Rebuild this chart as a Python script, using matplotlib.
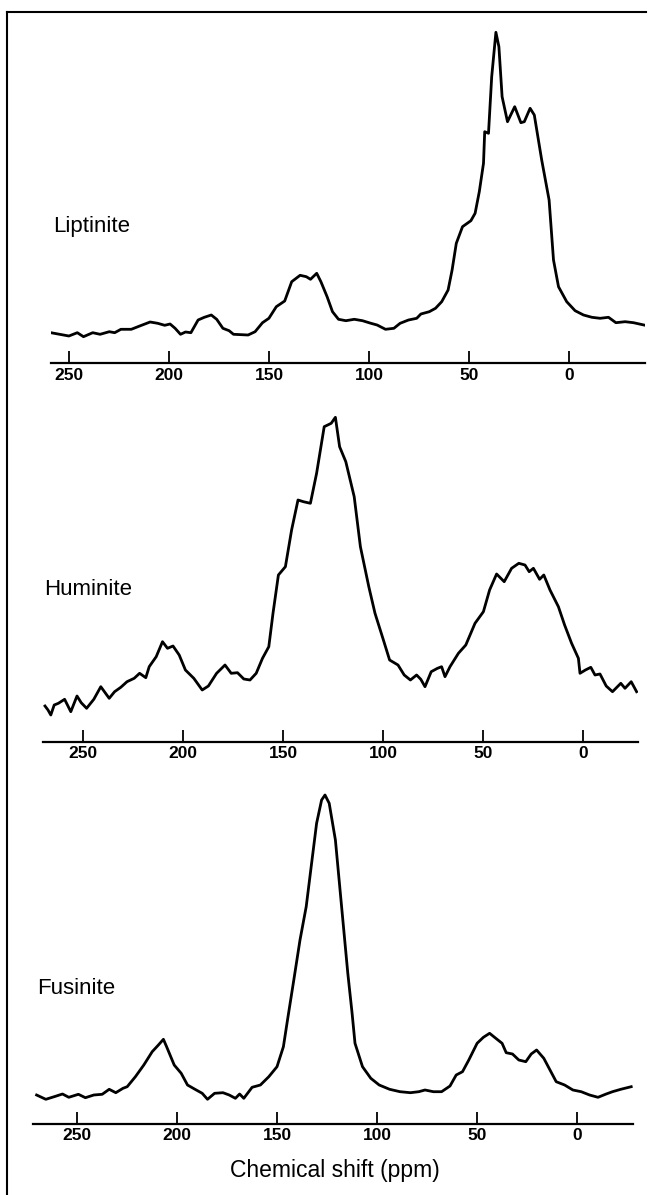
import numpy as np
import matplotlib.pyplot as plt
from matplotlib.lines import Line2D

# chemical shift (ppm) and intensity (arbitrary units)
lip_ppm = [259.1, 250.1, 245.9, 242.8, 238.2, 234.5, 229.9, 227.2, 224.1, 218.9,
           214.7, 209.5, 205.7, 202.2, 199.5, 197.0, 194.3, 191.8, 189.1, 185.5,
           182.4, 178.9, 176.2, 173.1, 170.0, 167.8, 160.5, 157.0, 153.3, 150.1,
           146.4, 142.2, 138.7, 134.5, 131.4, 129.3, 126.2, 124.1, 121.0, 118.3,
           115.3, 111.6, 107.4, 103.3, 99.1, 96.0, 91.8, 87.6, 84.5, 80.3,
           76.2, 74.1, 69.9, 66.8, 63.7, 60.5, 58.5, 56.4, 53.3, 49.1,
           47.0, 44.9, 42.8, 42.2, 40.3, 38.7, 36.6, 35.1, 33.5, 30.8,
           27.2, 24.1, 22.4, 19.5, 17.4, 13.7, 10.0, 7.8, 5.3, 1.2,
           -3.0, -7.2, -11.4, -15.5, -19.7, -23.4, -28.0, -32.2, -37.4]
lip_int = [30.3, 27.0, 30.3, 26.3, 30.3, 28.7, 31.3, 30.3, 33.7, 33.7,
           37.0, 41.0, 39.7, 37.7, 39.0, 34.7, 28.7, 31.0, 30.3, 43.0,
           45.7, 48.0, 43.7, 34.7, 32.3, 28.7, 28.0, 31.3, 40.3, 44.7,
           56.3, 62.0, 81.3, 87.7, 86.3, 83.7, 89.7, 81.3, 66.3, 51.3,
           43.7, 42.3, 43.7, 42.3, 39.7, 38.0, 33.7, 34.7, 39.7, 43.0,
           44.7, 49.0, 51.3, 54.7, 61.3, 73.0, 93.0, 119.7, 136.3, 142.3,
           149.7, 171.3, 199.7, 231.3, 229.7, 286.3, 330.7, 316.3, 266.3, 241.3,
           256.3, 240.3, 241.3, 254.7, 248.0, 203.0, 163.0, 103.0, 76.3, 61.3,
           52.3, 48.0, 45.7, 44.7, 45.7, 40.3, 41.3, 40.3, 38.0]

hum_ppm = [269.0, 267.5, 266.1, 264.4, 262.3, 259.2, 256.1, 253.0, 250.9, 248.2,
           244.6, 241.1, 236.9, 234.2, 231.1, 228.0, 224.4, 221.7, 218.6, 216.9,
           213.4, 210.25, 207.75, 205.0, 201.9, 198.8, 194.6, 190.4, 187.3, 183.2,
           179.0, 175.9, 172.75, 169.6, 166.5, 163.4, 160.25, 157.1, 155.0, 152.3,
           148.8, 145.7, 142.5, 139.8, 136.3, 133.2, 129.4, 125.9, 123.8, 121.7,
           118.6, 114.4, 111.3, 107.1, 104.0, 99.8, 96.7, 92.5, 89.4, 86.3,
           83.2, 81.1, 79.0, 75.9, 72.75, 70.7, 69.0, 66.5, 62.3, 58.6,
           54.0, 49.8, 46.7, 43.2, 39.4, 35.7, 32.1, 29.0, 26.9, 24.8,
           21.7, 19.6, 16.5, 12.3, 9.2, 5.7, 2.3, 1.5, -1.2, -3.9,
           -6.0, -8.5, -11.6, -14.75, -18.9, -21.0, -24.1, -26.8]
hum_int = [35.5, 31.5, 26.5, 36.5, 38.2, 42.2, 29.8, 45.5, 38.8, 33.2,
           42.2, 54.8, 43.2, 49.8, 54.2, 59.8, 63.2, 68.2, 63.8, 74.8,
           84.8, 99.8, 93.2, 95.5, 86.5, 71.5, 63.2, 51.5, 55.5, 68.2,
           76.5, 68.2, 68.8, 62.5, 61.5, 68.2, 83.2, 94.8, 128.2, 166.5,
           174.8, 211.5, 241.5, 239.8, 238.2, 268.2, 314.8, 318.2, 324.2, 294.8,
           279.8, 244.8, 194.8, 154.8, 128.2, 101.5, 81.5, 76.5, 66.5, 61.5,
           66.5, 62.2, 54.8, 69.8, 73.2, 74.8, 64.8, 74.8, 88.2, 96.5,
           118.2, 129.8, 151.5, 167.5, 159.8, 173.2, 178.2, 176.5, 169.8, 173.2,
           162.2, 166.5, 151.5, 134.8, 116.5, 98.2, 83.2, 68.2, 71.5, 74.2,
           66.5, 67.5, 55.5, 49.8, 58.2, 53.2, 59.8, 49.8]

fus_ppm = [270.2, 265.6, 261.4, 257.25, 254.1, 249.3, 245.8, 241.6, 237.4, 233.9,
           230.6, 227.0, 224.9, 220.8, 216.6, 212.4, 209.3, 206.8, 205.2, 201.4,
           197.9, 194.75, 191.0, 187.4, 184.75, 181.2, 177.0, 173.9, 170.8, 168.7,
           166.6, 162.45, 158.3, 154.1, 150.0, 146.8, 144.75, 141.6, 138.5, 135.4,
           132.7, 130.2, 127.7, 126.0, 123.9, 120.8, 117.7, 114.6, 112.45, 111.0,
           107.25, 103.1, 98.9, 93.7, 88.5, 83.3, 79.1, 76.0, 71.8, 67.7,
           63.5, 60.4, 57.25, 54.1, 49.95, 46.8, 43.7, 40.6, 37.45, 35.4,
           32.25, 29.1, 25.6, 22.9, 20.2, 16.6, 13.5, 10.4, 6.2, 2.05,
           -2.1, -6.3, -10.5, -14.6, -17.75, -21.9, -27.1]
fus_int = [28.5, 24.2, 26.8, 29.5, 26.2, 29.2, 25.8, 28.5, 29.2, 34.2,
           30.8, 35.2, 36.8, 46.8, 58.5, 71.8, 78.5, 84.2, 76.8, 58.5,
           50.2, 38.5, 34.2, 30.2, 24.2, 30.2, 30.8, 28.5, 25.2, 29.5,
           25.2, 36.2, 38.5, 46.8, 56.8, 76.8, 103.5, 143.5, 183.5, 216.8,
           260.2, 300.2, 323.5, 328.5, 320.2, 283.5, 216.8, 150.2, 110.2, 80.2,
           56.8, 45.2, 38.5, 34.2, 31.8, 30.8, 31.8, 33.5, 31.8, 31.8,
           37.5, 48.5, 51.8, 63.5, 80.2, 86.2, 90.2, 85.2, 80.2, 70.8,
           69.5, 63.5, 61.8, 69.5, 73.5, 65.2, 53.5, 41.8, 38.5, 33.5,
           31.8, 28.5, 26.2, 29.5, 31.8, 34.2, 36.8]

tick_vals = [250, 200, 150, 100, 50, 0]
names = ['Liptinite', 'Huminite', 'Fusinite']

W, H = 653, 1195
fig = plt.figure(figsize=(W / 100, H / 100), dpi=100, facecolor='w')
plt.rcParams['font.family'] = ['Liberation Sans', 'DejaVu Sans']


def fx(x):
    return x / W


def fy(y):
    return 1 - y / H


# (left px, right px, axis line y px, ppm at left, ppm at right, label x, label baseline)
panels = [
    (50.7, 644.7, 363.0, 259.2, -37.8, 53, 232),
    (42.5, 637.5, 741.5, 270.25, -27.25, 44, 595),
    (32.5, 632.5, 1123.5, 272.25, -27.75, 37, 994),
]
series = [(lip_ppm, lip_int), (hum_ppm, hum_int), (fus_ppm, fus_int)]

for (l, r, yb, p0, p1, lx, ly), (ppm, inten), name in zip(panels, series, names):
    hpx = 345
    ax = fig.add_axes([fx(l), fy(yb), (r - l) / W, hpx / H])
    ax.plot(ppm, inten, color='k', lw=2.0, solid_joinstyle='round')
    ax.set_xlim(p0, p1)
    ax.set_ylim(0, hpx)
    for s in ['top', 'left', 'right']:
        ax.spines[s].set_visible(False)
    ax.spines['bottom'].set_linewidth(1.6)
    ax.set_yticks([])
    ax.set_xticks(tick_vals)
    ax.set_xticklabels([str(v) for v in tick_vals], fontsize=12.5, fontweight='bold')
    ax.tick_params(axis='x', direction='in', length=9, width=1.3, pad=3.5)
    ax.patch.set_alpha(0)
    fig.text(fx(lx), fy(ly), name, fontsize=16, ha='left', va='baseline')

fig.text(fx(335), fy(1177), 'Chemical shift (ppm)', fontsize=16.5,
         ha='center', va='baseline')

# frame round the figure (left and top only)
fig.add_artist(Line2D([fx(7), fx(7)], [fy(12), 0], color='k', lw=1.5))
fig.add_artist(Line2D([fx(7), fx(646)], [fy(12), fy(12)], color='k', lw=1.5))

fig.savefig('out.png', dpi=100)
